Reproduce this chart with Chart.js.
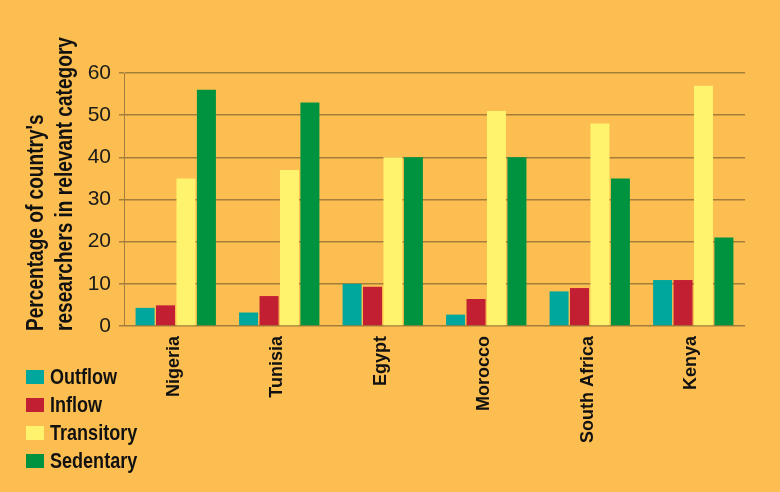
<!DOCTYPE html>
<html lang="en">
<head>
<meta charset="UTF-8">
<title>Researcher mobility by country</title>
<script src="https://cdn.jsdelivr.net/npm/chart.js"></script>
<style>
    body {
        margin: 0;
        background: #FCBE50;
    }
    canvas {
        display: block;
    }
</style>
</head>
<body>
<canvas id="mobilityChart" width="780" height="492"></canvas>
<script>
    // data
    const countries = ["Nigeria", "Tunisia", "Egypt", "Morocco", "South Africa", "Kenya"];
    const outflow    = [4.3, 3.2, 10, 2.7, 8.2, 10.9];
    const inflow     = [4.9, 7.1, 9.3, 6.4, 9.0, 10.9];
    const transitory = [35, 37, 40, 51, 48, 57];
    const sedentary  = [56, 53, 40, 40, 35, 21];
    const seriesNames = ["Outflow", "Inflow", "Transitory", "Sedentary"];
    const yTitle = ["Percentage of country's", "researchers in relevant category"];

    const colors = ["#00A79D", "#C21F32", "#FFF36E", "#00933F"];
    const gridColor = "#A27E3A";
    const sans = "'Liberation Sans', Arial, sans-serif";
    const squeeze = 0.82; // no condensed font here, so narrow the text by hand

    // rotated country names, reading bottom to top
    const countryLabels = {
        id: 'countryLabels',
        afterDraw(chart) {
            const ctx = chart.ctx;
            const xs = chart.scales.x;
            ctx.save();
            ctx.font = "bold 18px " + sans;
            ctx.fillStyle = "#111";
            ctx.textAlign = "right";
            ctx.textBaseline = "middle";
            countries.forEach((name, i) => {
                const x = xs.getPixelForValue(i) - 2;
                ctx.save();
                ctx.translate(x, chart.chartArea.bottom + 10);
                ctx.rotate(-Math.PI / 2);
                ctx.fillText(name, 0, 0);
                ctx.restore();
            });
            ctx.restore();
        }
    };

    // two line y-axis title, starting at the bottom
    const axisTitle = {
        id: 'axisTitle',
        afterDraw(chart) {
            const ctx = chart.ctx;
            ctx.save();
            ctx.font = "bold 23px " + sans;
            ctx.fillStyle = "#111";
            ctx.textAlign = "left";
            ctx.textBaseline = "middle";
            ctx.translate(0, chart.chartArea.bottom + 5);
            ctx.rotate(-Math.PI / 2);
            ctx.scale(0.83, 1);
            yTitle.forEach((line, i) => {
                ctx.fillText(line, 0, 37 + i * 29);
            });
            ctx.restore();
        }
    };

    // legend in the lower left corner
    const sideLegend = {
        id: 'sideLegend',
        afterDraw(chart) {
            const ctx = chart.ctx;
            ctx.save();
            ctx.font = "bold 22px " + sans;
            ctx.textBaseline = "middle";
            chart.data.datasets.forEach((ds, i) => {
                const y = 377 + i * 28;
                ctx.fillStyle = ds.backgroundColor;
                ctx.fillRect(26, y - 7, 18, 14);
                ctx.fillStyle = "#111";
                ctx.save();
                ctx.translate(50, y + 1);
                ctx.scale(squeeze, 1);
                ctx.fillText(ds.label, 0, 0);
                ctx.restore();
            });
            ctx.restore();
        }
    };

    const seriesData = [outflow, inflow, transitory, sedentary];

    const ctx = document.getElementById('mobilityChart').getContext('2d');
    const mobilityChart = new Chart(ctx, {
        type: 'bar',
        data: {
            labels: countries,
            datasets: seriesNames.map((name, i) => ({
                label: name,
                data: seriesData[i],
                backgroundColor: colors[i],
                borderWidth: 0,
                categoryPercentage: 0.79,
                barPercentage: 0.93
            }))
        },
        options: {
            responsive: false,
            animation: false,
            devicePixelRatio: 1,
            layout: {
                padding: { top: 73, right: 35, left: 0, bottom: 0 }
            },
            plugins: {
                legend: { display: false },
                tooltip: { enabled: false }
            },
            scales: {
                x: {
                    grid: { display: false },
                    border: { display: false },
                    ticks: { display: false },
                    afterFit: (scale) => { scale.height = 166; }
                },
                y: {
                    min: 0,
                    max: 60,
                    ticks: {
                        stepSize: 10,
                        padding: 8,
                        color: "#1a1a1a",
                        font: { family: sans, size: 21 }
                    },
                    grid: {
                        color: gridColor,
                        lineWidth: 1.5,
                        tickLength: 5,
                        tickColor: gridColor
                    },
                    border: { color: gridColor, width: 1 },
                    afterFit: (scale) => { scale.width = 124; }
                }
            }
        },
        plugins: [countryLabels, axisTitle, sideLegend]
    });
</script>
</body>
</html>
